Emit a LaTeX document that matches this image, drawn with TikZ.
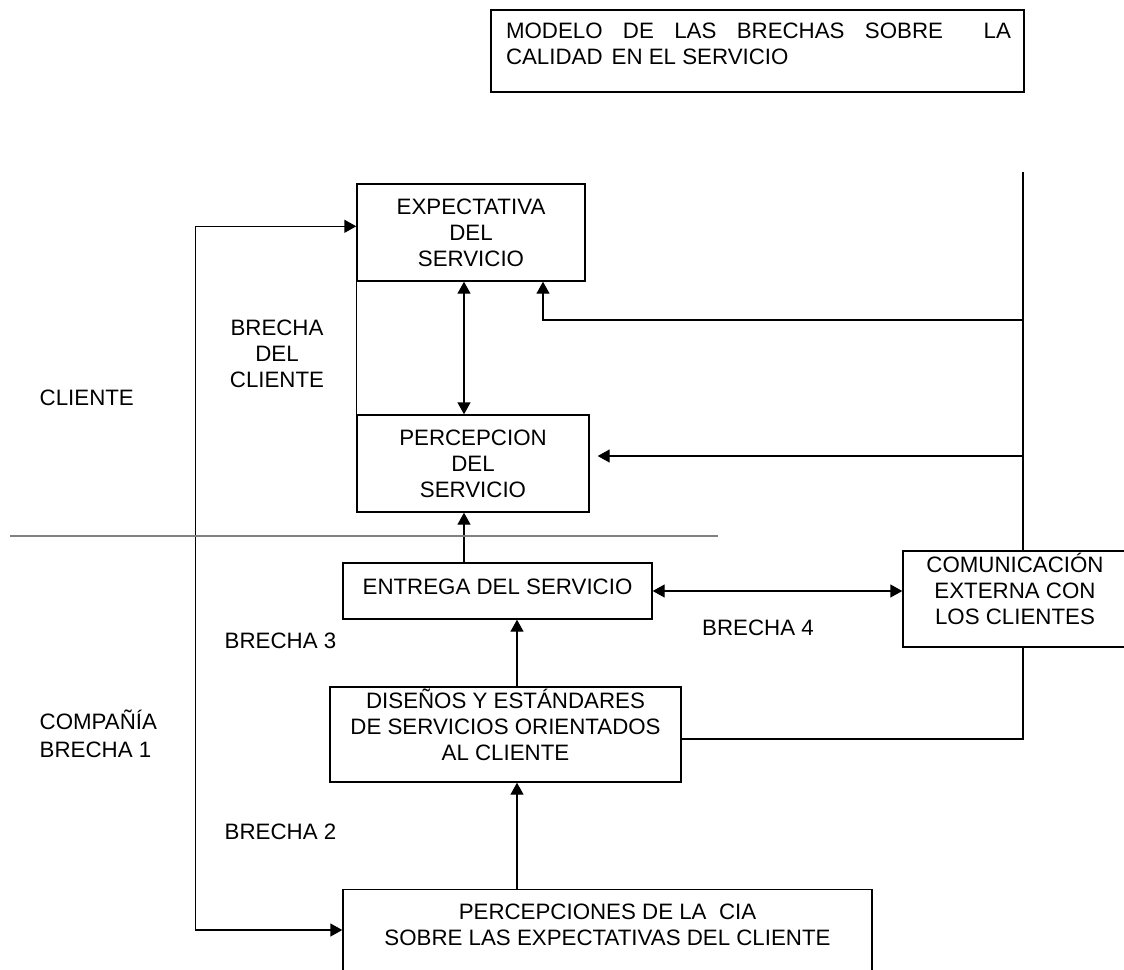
\documentclass[tikz,border=0pt]{standalone}
\usepackage{fontspec}
\setmainfont{Liberation Sans}
\usetikzlibrary{calc,arrows.meta}

\begin{document}
\begin{tikzpicture}[x=0.5pt,y=-0.5pt,line width=0.7pt,>={Triangle[length=6pt,width=6.5pt]},
    every node/.style={font=\fontsize{11.15}{13}\selectfont,inner sep=0pt},
    caja/.style={draw,align=center,fill=white},
    texto/.style={anchor=base west}]
  \useasboundingbox (0,0) rectangle (1124,969);
  \clip (0,0) rectangle (1124,969);
  \node[caja,minimum width=266.5pt,minimum height=41pt] (TIT) at (757.5,51) {};
  \node[texto] (TIT1) at ($(TIT.north west)+(15,29)$) {\makebox[252.5pt][s]{MODELO DE LAS BRECHAS SOBRE~ LA}};
  \node[texto] (TIT2) at ($(TIT1.base west)+(0,26)$) {CALIDAD\hspace{4.5pt}EN EL SERVICIO};
  \node[caja,minimum width=114pt,minimum height=48.5pt] (EXP) at (471,232.5) {EXPECTATIVA\\DEL\\SERVICIO};
  \node[caja,minimum width=116pt,minimum height=48.5pt] (PER) at (473,463.5) {PERCEPCION\\DEL\\SERVICIO};
  \node[caja,minimum width=154.5pt,minimum height=28pt,text depth=4pt] (ENT) at (497.5,591) {ENTREGA DEL SERVICIO};
  \node[caja,minimum width=112pt,minimum height=48pt] (COM) at (1015,599) {\smash{COMUNICACIÓN}\\EXTERNA CON\\LOS CLIENTES};
  \node[caja,minimum width=175.5pt,minimum height=47.5pt] (DIS) at (505.5,734.5) {\smash{DISEÑOS Y ESTÁNDARES}\\DE SERVICIOS ORIENTADOS\\AL CLIENTE};
  \node[caja,minimum width=264.5pt,minimum height=65pt,anchor=north] (CIA) at (607.5,889) {};
  \node[align=center] (CIA1) at ($(CIA.north)+(0,36)$) {PERCEPCIONES DE LA~ CIA\\SOBRE LAS EXPECTATIVAS DEL CLIENTE};
  \node[texto] (CLI) at (39,405) {CLIENTE};
  \node[align=center] (BCL) at (277,354) {BRECHA\\DEL\\CLIENTE};
  \node[texto] (COMP) at (39,729) {COMPAÑÍA};
  \node[texto] (B1) at ($(COMP.base west)+(0,28)$) {BRECHA 1};
  \node[texto] (B3) at (224,648) {BRECHA 3};
  \node[texto] (B2) at (224,839) {BRECHA 2};
  \node[anchor=base] (B4) at (758,635) {BRECHA 4};
  \coordinate (DER) at (1023,172);
  \coordinate (R1) at (1023,320);
  \coordinate (R2) at (1023,456);
  \draw (DER) -- (DER |- COM.north);
  \draw ($(DIS.east)+(0,4.5)$) -| (DER |- COM.south);
  \draw (EXP.south west) -- (PER.north west);
  \path[<->] ($(EXP.south)+(-7,0)$) edge ($(PER.north)+(-9,0)$);
  \draw[->] (R1) -| ($(EXP.south)+(72,0)$);
  \draw[->] (R2) -- ($(PER.east)+(8,-7.5)$);
  \path[->] ($(ENT.north)+(-33.5,0)$) edge ($(PER.south)+(-9,0)$);
  \path[<->] (ENT.east) edge ($(COM.west)+(0,-8)$);
  \path[->] ($(DIS.north)+(11.5,0)$) edge ($(ENT.south)+(19.5,0)$);
  \path[->] ($(CIA.north)+(-90.5,0)$) edge ($(DIS.south)+(11.5,0)$);
  \draw[<->] ($(CIA.north west)+(0,41)$) -| ($(EXP.north west)+(-161,43)$) -- ($(EXP.north west)+(0,43)$);
  \draw[gray,line width=0.8pt] (10,536) -- (718,536);
\end{tikzpicture}
\end{document}
